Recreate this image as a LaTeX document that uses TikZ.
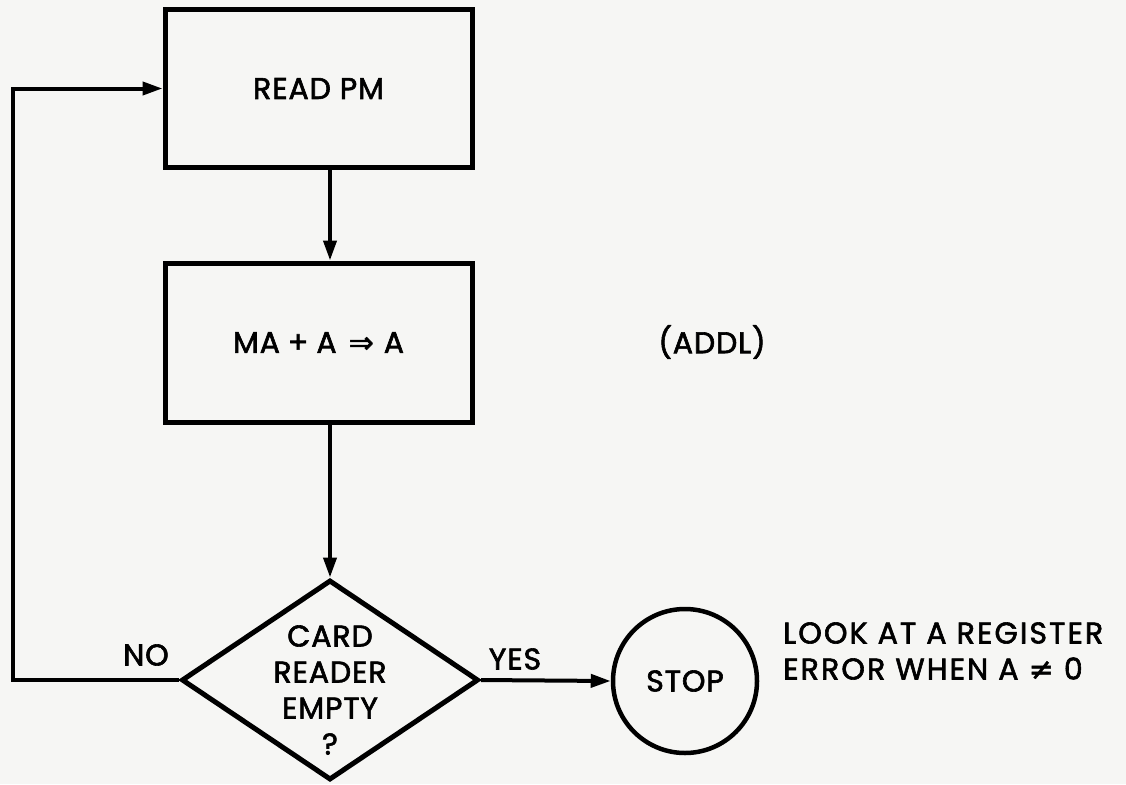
\documentclass[tikz,border=0pt]{standalone}
\usepackage{fontspec}
\setmainfont{Poppins}[FakeBold=2,LetterSpace=3]
\newfontfamily\symf{DejaVu Sans}[FakeBold=1.5]
\usetikzlibrary{arrows.meta,shapes.geometric}
\definecolor{bgcol}{RGB}{246,246,244}
\begin{document}
\begin{tikzpicture}[x=1pt,y=-1pt,
  txt/.style={font=\fontsize{30}{36}\selectfont, inner sep=0pt},
  box/.style={draw, line width=5pt, minimum width=307pt, minimum height=157pt, inner sep=0pt, txt},
  flow/.style={line width=4pt, -{Triangle[length=20pt,width=13pt]}}]
\fill[bgcol] (0,0) rectangle (1126,784);
\useasboundingbox (0,0) rectangle (1126,784);

\node[box] (read) at (318.5,88.5) {READ PM};
\node[box, minimum height=159pt] (ma) at (318.5,342.5)
  {MA\hspace{8pt}+\hspace{8pt}A\hspace{12pt}{\symf\fontsize{30}{30}\selectfont ⇒}\hspace{10pt}A};
\node[draw, diamond, line width=5pt, minimum width=297pt, minimum height=200pt, inner sep=0pt] (dec) at (330,680) {};
\node[txt, align=center] (dtext) at (330,690) {CARD\\READER\\EMPTY\\?};
\node[draw, circle, line width=4.5pt, minimum size=144pt, txt] (stop) at (685,681) {STOP};

\node[txt] (no) at (146,655) {NO};
\node[txt] (yes) at (515,659) {YES};
\node[txt] (addl) at (712,342) {(ADDL)};
\node[txt, align=left, anchor=west] (look) at (783,651)
  {\addfontfeature{LetterSpace=7}LOOK AT A REGISTER\\\addfontfeature{LetterSpace=7}ERROR WHEN A {\symf ≠} 0};

\coordinate (loopx) at (13,0);
\draw[flow] (read.south -| dec.north) -- (ma.north -| dec.north);
\draw[flow] (ma.south -| dec.north) -- (dec.north);
\draw[flow] (dec.east) -- (stop.west);
\draw[flow] (dec.west) -- (dec.west -| loopx) |- (read.west);
\end{tikzpicture}
\end{document}
